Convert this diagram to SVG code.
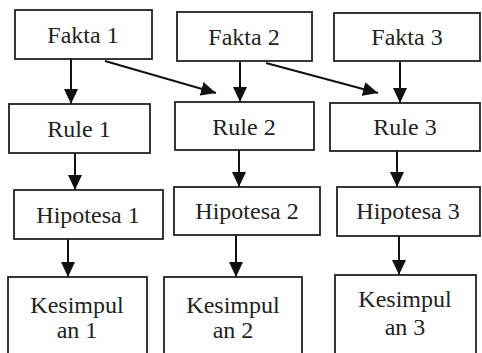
<svg xmlns="http://www.w3.org/2000/svg" width="482" height="353" viewBox="0 0 482 353">
<style>
.box{fill:#fff;stroke:#222;stroke-width:1.8}
text{font-size:24px;fill:#222;text-anchor:middle}
.c{stroke:#111;stroke-width:2;fill:none;marker-end:url(#ah)}
</style>
<defs>
<marker id="ah" markerUnits="userSpaceOnUse" markerWidth="16" markerHeight="14" viewBox="0 0 16 14" refX="15" refY="7" orient="auto">
<path d="M0,0 L15,7 L0,14 Z" fill="#111"/>
</marker>
</defs>
<rect width="482" height="353" fill="#fff"/>
<g id="connectors">
<line class="c" x1="71" y1="59" x2="71" y2="104"/>
<line class="c" x1="105" y1="61" x2="216" y2="93"/>
<line class="c" x1="240" y1="61" x2="240" y2="102"/>
<line class="c" x1="266" y1="63" x2="378" y2="93"/>
<line class="c" x1="400" y1="61" x2="400" y2="103"/>
<line class="c" x1="75" y1="153" x2="75" y2="190"/>
<line class="c" x1="239" y1="150" x2="239" y2="187"/>
<line class="c" x1="397" y1="151" x2="397" y2="187"/>
<line class="c" x1="68" y1="239" x2="68" y2="277"/>
<line class="c" x1="236" y1="235" x2="236" y2="277"/>
<line class="c" x1="399" y1="236" x2="399" y2="275"/>
</g>
<g font-family="Liberation Serif, DejaVu Serif, serif">
<g id="fakta1"><rect class="box" x="15" y="10" width="137" height="49"/><text x="83" y="43">Fakta 1</text></g>
<g id="fakta2"><rect class="box" x="177" y="12" width="135" height="49"/><text x="244" y="45">Fakta 2</text></g>
<g id="fakta3"><rect class="box" x="334" y="13" width="146" height="48"/><text x="407" y="45">Fakta 3</text></g>
<g id="rule1"><rect class="box" x="9" y="104" width="141" height="49"/><text x="79" y="137">Rule 1</text></g>
<g id="rule2"><rect class="box" x="175" y="102" width="139" height="48"/><text x="244" y="135">Rule 2</text></g>
<g id="rule3"><rect class="box" x="330" y="103" width="150" height="48"/><text x="405" y="135">Rule 3</text></g>
<g id="hipotesa1"><rect class="box" x="14" y="190" width="149" height="49"/><text x="88" y="223">Hipotesa 1</text></g>
<g id="hipotesa2"><rect class="box" x="174" y="187" width="146" height="48"/><text x="247" y="219">Hipotesa 2</text></g>
<g id="hipotesa3"><rect class="box" x="337" y="187" width="143" height="49"/><text x="408" y="219">Hipotesa 3</text></g>
<g id="kesimpulan1"><rect class="box" x="8" y="277" width="139" height="90"/><text x="77" y="313">Kesimpul</text><text x="77" y="338">an 1</text></g>
<g id="kesimpulan2"><rect class="box" x="164" y="277" width="138" height="90"/><text x="233" y="313">Kesimpul</text><text x="233" y="338">an 2</text></g>
<g id="kesimpulan3"><rect class="box" x="335" y="275" width="141" height="90"/><text x="405" y="307">Kesimpul</text><text x="405" y="335">an 3</text></g>
</g>
</svg>
